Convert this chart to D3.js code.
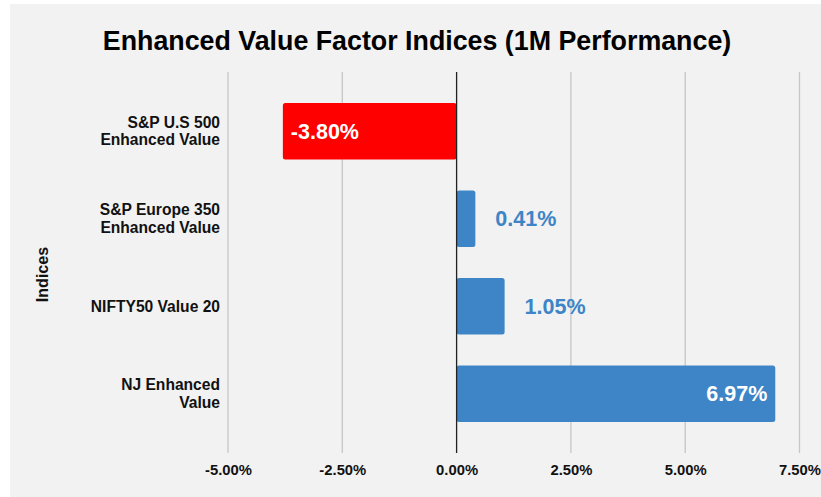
<!DOCTYPE html>
<html>
<head>
<meta charset="utf-8">
<script src="https://cdn.jsdelivr.net/npm/d3@7"></script>
<style>
  html, body { margin: 0; padding: 0; background: #ffffff; }
  svg { display: block; font-family: "Liberation Sans", Arial, sans-serif; }
</style>
</head>
<body>
<svg id="chart" width="821" height="497"></svg>
<script>
const title = "Enhanced Value Factor Indices (1M Performance)";
const yAxisTitle = "Indices";
const categories = [
  "S&P U.S 500\nEnhanced Value",
  "S&P Europe 350\nEnhanced Value",
  "NIFTY50 Value 20",
  "NJ Enhanced\nValue"
];
const values = [-3.80, 0.41, 1.05, 6.97];
const xTicks = [-5, -2.5, 0, 2.5, 5, 7.5];
const xDomain = [-5, 7.5];

const W = 821, H = 497;
const svg = d3.select("#chart");
const pct = d3.formatLocale({ decimal: ".", thousands: ",", grouping: [3], currency: ["$", ""], minus: "-" }).format(".2%");

svg.append("rect").attr("x", 10).attr("y", 4).attr("width", W - 10).attr("height", H - 4)
  .attr("fill", "#f2f2f2");

const plot = { left: 228, right: 799.5, top: 72, bottom: 453 };

const x = d3.scaleLinear().domain(xDomain).range([plot.left, plot.right]);
const y = d3.scaleBand().domain(categories).range([plot.top, plot.bottom])
  .paddingInner(0.355).paddingOuter(0.355);

// title
svg.append("text").attr("x", 417).attr("y", 50).attr("text-anchor", "middle")
  .attr("font-size", 26.8).attr("font-weight", "bold").attr("fill", "#000")
  .text(title);

// gridlines
svg.append("g").selectAll("line").data(xTicks.filter(t => t !== 0)).join("line")
  .attr("x1", d => x(d)).attr("x2", d => x(d))
  .attr("y1", plot.top).attr("y2", plot.bottom)
  .attr("stroke", "#c6c6c6").attr("stroke-width", 1.3);

// x axis labels
const xAxis = d3.axisBottom(x).tickValues(xTicks).tickSize(0).tickPadding(0)
  .tickFormat(d => pct(d / 100));
const gx = svg.append("g").attr("transform", `translate(0,${plot.bottom})`).call(xAxis);
gx.select(".domain").remove();
gx.selectAll("text").attr("font-size", 14.8).attr("font-weight", "bold")
  .attr("fill", "#111").attr("font-family", "Liberation Sans, Arial, sans-serif")
  .attr("dy", "0").attr("y", 22);

// bars
const data = categories.map((c, i) => ({ c, v: values[i] }));
svg.append("g").selectAll("rect").data(data).join("rect")
  .attr("x", d => x(Math.min(0, d.v)))
  .attr("width", d => Math.abs(x(d.v) - x(0)))
  .attr("y", d => y(d.c))
  .attr("height", y.bandwidth())
  .attr("rx", 2.5)
  .attr("fill", d => d.v < 0 ? "#ff0000" : "#3d85c6");

// zero line
svg.append("line").attr("x1", x(0)).attr("x2", x(0))
  .attr("y1", plot.top).attr("y2", plot.bottom)
  .attr("stroke", "#222").attr("stroke-width", 1.3);

// value labels
svg.append("g").selectAll("text").data(data).join("text")
  .each(function(d) {
    const inside = Math.abs(x(d.v) - x(0)) > 80;
    const t = d3.select(this);
    let xp, anchor;
    if (inside) {
      xp = d.v < 0 ? x(d.v) + 8 : x(d.v) - 8;
      anchor = d.v < 0 ? "start" : "end";
      t.attr("fill", "#ffffff");
    } else {
      xp = d.v < 0 ? x(d.v) - 20 : x(d.v) + 20;
      anchor = d.v < 0 ? "end" : "start";
      t.attr("fill", "#3d85c6");
    }
    t.attr("x", xp).attr("text-anchor", anchor);
  })
  .attr("y", d => y(d.c) + y.bandwidth() / 2)
  .attr("dy", "0.35em")
  .attr("font-size", 21.5).attr("font-weight", "bold")
  .text(d => pct(d.v / 100));

// category labels
const cat = svg.append("g").selectAll("text").data(categories).join("text")
  .attr("x", 220).attr("text-anchor", "end")
  .attr("font-size", 15.6).attr("font-weight", "bold").attr("fill", "#111");
cat.each(function(c) {
  const lines = c.split("\n");
  const cy = y(c) + y.bandwidth() / 2;
  const lh = 17.5;
  const t = d3.select(this);
  lines.forEach((ln, i) => {
    t.append("tspan").attr("x", 220)
      .attr("y", cy + (i - (lines.length - 1) / 2) * lh)
      .attr("dy", "0.35em").text(ln);
  });
});

// y axis title
svg.append("text").attr("transform", `translate(48,${(plot.top + plot.bottom) / 2 + 12}) rotate(-90)`)
  .attr("text-anchor", "middle").attr("font-size", 16.1).attr("font-weight", "bold")
  .attr("fill", "#111").text(yAxisTitle);
</script>
</body>
</html>
